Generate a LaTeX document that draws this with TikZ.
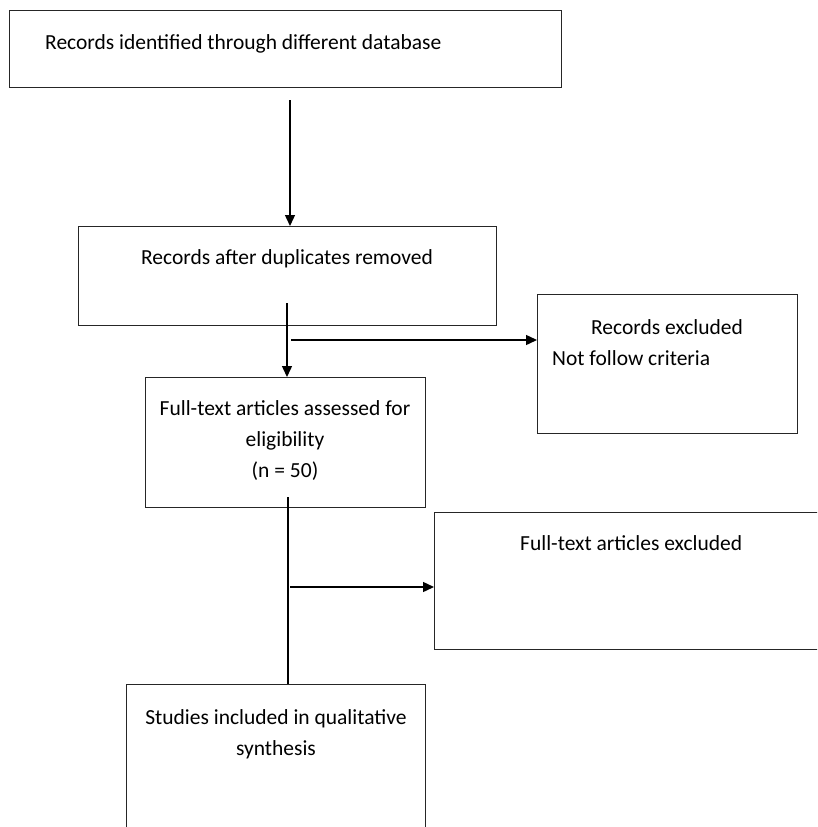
\documentclass[tikz,border=0pt]{standalone}
\usepackage{fontspec}
\setmainfont{Carlito}
\usetikzlibrary{arrows.meta}
\begin{document}
\begin{tikzpicture}[x=1pt,y=-1pt,
  box/.style={draw=black!85, line width=1.3pt, anchor=north west, inner sep=0pt, rectangle},
  txt/.style={inner sep=0pt, font=\fontsize{21.5}{31}\selectfont, text=black},
  conn/.style={draw=black, line width=1.4pt},
  arr/.style={conn, -{Triangle[length=11pt,width=10pt]}}]
\useasboundingbox (0,0) rectangle (817,827);
\clip (0,0) rectangle (817,827);
\fill[white] (0,0) rectangle (817,827);
% boxes
\node[box, minimum width=552pt, minimum height=77pt] (b1) at (9,10) {};
\node[box, minimum width=418pt, minimum height=99pt] (b2) at (78,226) {};
\node[box, minimum width=260pt, minimum height=139pt] (b3) at (537,294) {};
\node[box, minimum width=280pt, minimum height=130pt] (b4) at (145,377) {};
\node[box, minimum width=420pt, minimum height=137pt] (b5) at (434,512) {};
\node[box, minimum width=299pt, minimum height=200pt] (b6) at (126,684) {};
% texts
\node[txt, anchor=west] (t1) at (45,44) {Records identified through different database};
\node[txt] (t2) at (287,259) {Records after duplicates removed};
\node[txt] (t3) at (667,327) {Records excluded};
\node[txt, anchor=west] (t3b) at (552,358) {Not follow criteria};
\node[txt, align=center] (t4) at (285,441) {Full-text articles assessed for\\eligibility\\(n = 50)};
\node[txt, anchor=west] (t5) at (520,543) {Full-text articles excluded};
\node[txt, align=center] (t6) at (276,734) {Studies included in qualitative\\synthesis};
% connector anchors
\coordinate (c1) at (290,100);
\coordinate (c2) at (287,303);
\coordinate (c3) at (291,340);
\coordinate (c4) at (288,497);
\coordinate (c5) at (290,587);
% connectors
\draw[arr] (c1) -- (c1 |- b2.north);
\draw[arr] (c2) -- (c2 |- b4.north);
\draw[arr] (c3) -- (c3 -| b3.west);
\draw[conn] (c4) -- (c4 |- b6.north);
\draw[arr] (c5) -- (c5 -| b5.west);
\end{tikzpicture}
\end{document}
